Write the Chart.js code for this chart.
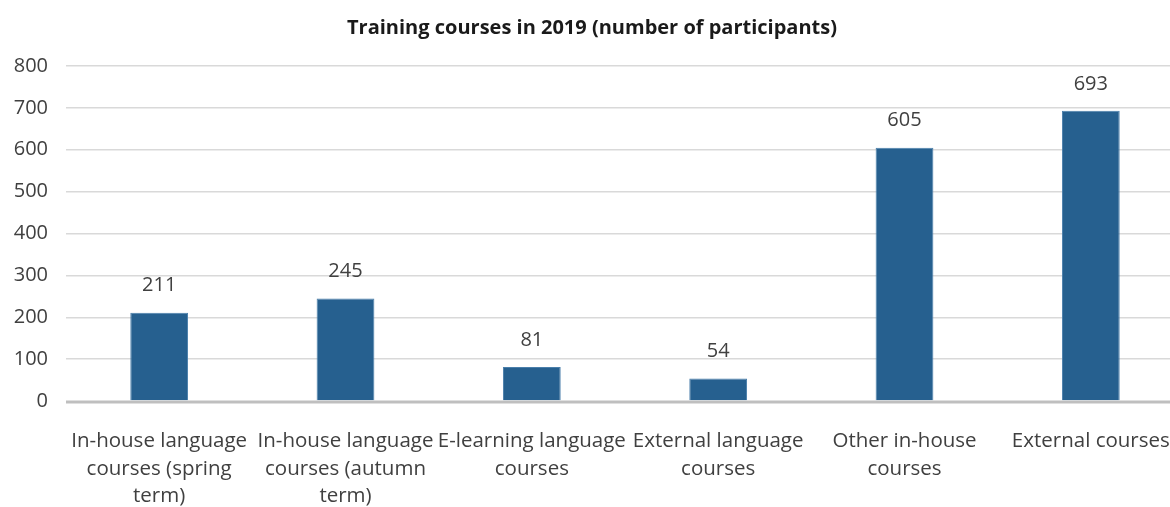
<!DOCTYPE html>
<html>
<head>
<meta charset="utf-8">
<script src="https://cdn.jsdelivr.net/npm/chart.js@4/dist/chart.umd.min.js"></script>
<style>
html,body{margin:0;padding:0;background:#fff;overflow:hidden;}
#wrap{width:1170px;height:507px;position:relative;overflow:hidden;}
</style>
</head>
<body>
<div id="wrap"><canvas id="c" width="1184" height="507"></canvas></div>
<script>
const chartTitle = "Training courses in 2019 (number of participants)";
const categories = [
  ["In-house language", "courses (spring", "term)"],
  ["In-house language", "courses (autumn", "term)"],
  ["E-learning language", "courses"],
  ["External language", "courses"],
  ["Other in-house", "courses"],
  ["External courses"]
];
const participants = [211, 245, 81, 54, 605, 693];
const yTicks = [0, 100, 200, 300, 400, 500, 600, 700, 800];

const FONT = "'Open Sans', 'Noto Sans', sans-serif";

const dataLabels = {
  id: 'dataLabels',
  afterDatasetsDraw(chart) {
    const ctx = chart.ctx;
    const meta = chart.getDatasetMeta(0);
    ctx.save();
    ctx.font = "20px " + FONT;
    ctx.fillStyle = "#404040";
    ctx.textAlign = "center";
    ctx.textBaseline = "bottom";
    meta.data.forEach((bar, i) => {
      ctx.fillText(String(participants[i]), bar.x, bar.y - 17);
    });
    ctx.restore();
  }
};

const zeroLine = {
  id: 'zeroLine',
  beforeDatasetsDraw(chart) {
    const ctx = chart.ctx;
    const y = chart.scales.y.getPixelForValue(0);
    ctx.save();
    ctx.strokeStyle = "#bfbfbf";
    ctx.lineWidth = 3;
    ctx.beginPath();
    ctx.moveTo(chart.chartArea.left, y + 1);
    ctx.lineTo(chart.chartArea.right, y + 1);
    ctx.stroke();
    ctx.restore();
  }
};

new Chart(document.getElementById('c'), {
  type: 'bar',
  data: {
    labels: categories,
    datasets: [{
      data: participants,
      backgroundColor: '#26608f',
      borderColor: '#4a7fab',
      borderWidth: 1,
      categoryPercentage: 1,
      barPercentage: 0.31
    }]
  },
  options: {
    responsive: false,
    animation: false,
    devicePixelRatio: 1,
    layout: { padding: { top: 0, right: 0, bottom: 0, left: 0 } },
    plugins: {
      legend: { display: false },
      tooltip: { enabled: false },
      title: {
        display: true,
        text: chartTitle,
        color: '#1a1a1a',
        font: { family: FONT, size: 20, weight: 'bold' },
        padding: { top: 16, bottom: 26 }
      }
    },
    scales: {
      y: {
        min: 0,
        max: 800,
        afterBuildTicks(axis) { axis.ticks = yTicks.map(v => ({ value: v })); },
        afterFit(axis) { axis.width = 66; },
        border: { display: false },
        grid: {
          color: (c) => c.tick && c.tick.value === 0 ? 'rgba(0,0,0,0)' : '#d9d9d9',
          lineWidth: 1.5,
          drawTicks: false
        },
        ticks: {
          color: '#404040',
          font: { family: FONT, size: 20 },
          padding: 18
        }
      },
      x: {
        afterFit(axis) { axis.height = 106; axis.paddingRight = 0; axis.paddingLeft = 0; },
        border: { display: false },
        grid: { display: false },
        ticks: {
          color: '#404040',
          font: { family: FONT, size: 20.5, lineHeight: 1.33 },
          padding: 19,
          maxRotation: 0,
          autoSkip: false
        }
      }
    }
  },
  plugins: [zeroLine, dataLabels]
});
</script>
</body>
</html>
